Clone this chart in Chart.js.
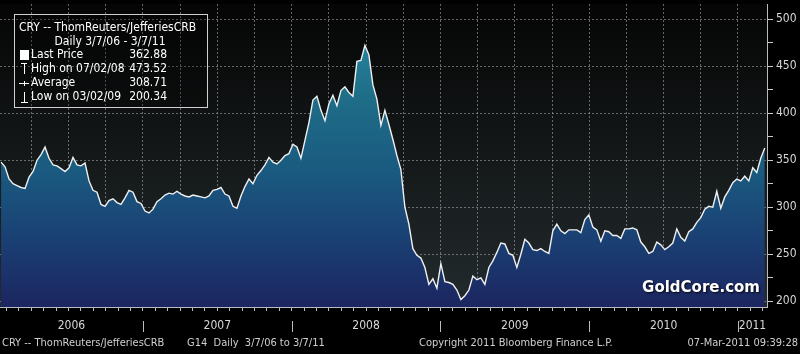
<!DOCTYPE html>
<html>
<head>
<meta charset="utf-8">
<script src="https://cdn.jsdelivr.net/npm/chart.js@4.4.1/dist/chart.umd.min.js"></script>
<style>
  html, body { margin: 0; padding: 0; background: #000; }
  #wrap { width: 800px; height: 354px; position: relative; }
</style>
</head>
<body>
<div id="wrap"><canvas id="cry"></canvas></div>
<script>
// CRY -- ThomReuters/JefferiesCRB, daily 3/7/06 - 3/7/11
const firstDate = 2006.046;   // fractional years
const lastDate = 2011.18;
const axisStart = 2006.039;
const axisEnd = 2011.195;

const cryValues = [
  348, 343, 330, 325, 323, 321, 320, 332, 338, 350, 356, 364, 352, 345, 344, 341,
  338, 342, 353, 345, 344, 347, 328, 318, 316, 303, 301, 307, 309, 305, 303, 310,
  318, 316, 306, 304, 296, 294, 298, 306, 309, 313, 315, 314, 317, 314, 312, 311,
  313, 312, 311, 310, 312, 318, 319, 321, 314, 312, 301, 299, 312, 322, 330, 325,
  334, 339, 345, 353, 348, 346, 350, 355, 357, 367, 364, 352, 371, 390, 414, 418,
  403, 392, 410, 419, 408, 424, 428, 422, 418, 455, 456, 472, 462, 430, 415, 387,
  403, 388, 372, 355, 340, 300, 282, 256, 249, 246, 236, 218, 224, 214, 240, 221,
  220, 218, 212, 202, 206, 212, 227, 223, 225, 218, 236, 243, 252, 262, 261, 251,
  249, 236, 250, 266, 262, 255, 254, 256, 253, 251, 275, 282, 275, 272, 276, 276,
  276, 273, 287, 292, 279, 276, 264, 275, 274, 270, 270, 267, 277, 277, 278, 276,
  263, 258, 251, 253, 263, 260, 255, 258, 262, 277, 268, 264, 274, 277, 284, 289,
  298, 301, 300, 317, 299, 311, 318, 326, 330, 328, 333, 328, 342, 337, 352, 362.88
];

const yearLabels = ['2006', '2007', '2008', '2009', '2010', '2011'];
const yTicks = [200, 250, 300, 350, 400, 450, 500];

const legendTitle = 'CRY -- ThomReuters/JefferiesCRB';
const legendRange = 'Daily 3/7/06 - 3/7/11';
const legendNames = ['Last Price', 'High on 07/02/08', 'Average', 'Low on 03/02/09'];
const legendValues = ['362.88', '473.52', '308.71', '200.34'];

const footerLeft = 'CRY -- ThomReuters/JefferiesCRB';
const footerMid = 'G14  Daily  3/7/06 to 3/7/11';
const footerCopy = 'Copyright 2011 Bloomberg Finance L.P.';
const footerStamp = '07-Mar-2011 09:39:28';
const watermark = 'GoldCore.com';

const FONT = '"DejaVu Sans Condensed", "Liberation Sans Narrow", sans-serif';
const GRID = 'rgba(165,165,165,0.6)';

const step = (lastDate - firstDate) / (cryValues.length - 1);
const points = cryValues.map((v, i) => ({ x: firstDate + i * step, y: v }));

// fundo escuro do painel
const backdrop = {
  id: 'backdrop',
  beforeDraw(chart) {
    const { ctx, chartArea: a } = chart;
    ctx.save();
    ctx.fillStyle = '#000';
    ctx.fillRect(0, 0, chart.width, chart.height);
    const g = ctx.createLinearGradient(0, a.top, 0, a.bottom);
    g.addColorStop(0, '#050505');
    g.addColorStop(0.5, '#141819');
    g.addColorStop(1, '#232b2e');
    ctx.fillStyle = g;
    ctx.fillRect(a.left, a.top, a.right - a.left, a.bottom - a.top);
    ctx.restore();
  }
};

// textos: anos, rodapé, legenda, marca d'água
const decorations = {
  id: 'decorations',
  afterDraw(chart) {
    const { ctx } = chart;
    const x = chart.scales.x;
    ctx.save();

    // year labels + separators
    ctx.font = '12px ' + FONT;
    ctx.fillStyle = '#d8d8d8';
    ctx.textAlign = 'center';
    ctx.textBaseline = 'middle';
    yearLabels.forEach(lbl => {
      const y0 = Math.max(+lbl, x.min), y1 = Math.min(+lbl + 1, x.max);
      ctx.fillText(lbl, (x.getPixelForValue(y0) + x.getPixelForValue(y1)) / 2, 326);
      if (+lbl > x.min) {
        const px = Math.round(x.getPixelForValue(+lbl)) + 0.5;
        ctx.strokeStyle = '#bbbbbb';
        ctx.lineWidth = 1;
        ctx.beginPath(); ctx.moveTo(px, 321); ctx.lineTo(px, 332); ctx.stroke();
      }
    });

    // footer
    ctx.font = '11px ' + FONT;
    ctx.fillStyle = '#cfcfcf';
    ctx.textAlign = 'left';
    ctx.fillText(footerLeft, 2, 343);
    ctx.fillText(footerMid, 187, 343);
    ctx.fillText(footerCopy, 419, 343);
    ctx.textAlign = 'right';
    ctx.fillText(footerStamp, 798, 343);

    // legend box
    ctx.fillStyle = 'rgba(0,0,0,0.25)';
    ctx.fillRect(14, 14, 193, 93);
    ctx.strokeStyle = '#d0d0d0';
    ctx.lineWidth = 1;
    ctx.strokeRect(14.5, 14.5, 193, 93);
    ctx.fillStyle = '#ffffff';
    ctx.font = '12px ' + FONT;
    ctx.textAlign = 'left';
    ctx.fillText(legendTitle, 19, 28);
    ctx.textAlign = 'center';
    ctx.fillText(legendRange, 110, 42);
    const rowY = [55, 69, 83, 97];
    legendNames.forEach((n, i) => {
      ctx.textAlign = 'left';
      ctx.fillText(n, 31, rowY[i]);
      ctx.textAlign = 'right';
      ctx.fillText(legendValues[i], 167, rowY[i]);
    });
    // icons
    ctx.fillRect(20, rowY[0] - 5, 9, 10);
    ctx.strokeStyle = '#ffffff';
    ctx.beginPath();
    ctx.moveTo(21, rowY[1] - 5.5); ctx.lineTo(27, rowY[1] - 5.5);
    ctx.moveTo(24.5, rowY[1] - 5); ctx.lineTo(24.5, rowY[1] + 5);
    ctx.moveTo(19, rowY[2] + 0.5); ctx.lineTo(29, rowY[2] + 0.5);
    ctx.moveTo(24.5, rowY[2] - 2); ctx.lineTo(24.5, rowY[2] + 3);
    ctx.moveTo(24.5, rowY[3] - 5); ctx.lineTo(24.5, rowY[3] + 5);
    ctx.moveTo(21, rowY[3] + 5.5); ctx.lineTo(28, rowY[3] + 5.5);
    ctx.stroke();

    // watermark
    ctx.font = 'bold 15px "DejaVu Sans", sans-serif';
    ctx.textAlign = 'right';
    ctx.shadowColor = 'rgba(0,0,0,0.9)';
    ctx.shadowBlur = 2;
    ctx.shadowOffsetX = 1;
    ctx.shadowOffsetY = 1;
    ctx.fillStyle = '#ffffff';
    ctx.fillText(watermark, 760, 288);
    ctx.restore();
  }
};

new Chart(document.getElementById('cry').getContext('2d'), {
  type: 'line',
  data: {
    datasets: [{
      label: 'CRY',
      data: points,
      borderColor: '#f0f0f0',
      borderWidth: 1.4,
      pointRadius: 0,
      tension: 0,
      fill: 'start',
      backgroundColor(c) {
        const a = c.chart.chartArea;
        if (!a) return '#1a4a78';
        const g = c.chart.ctx.createLinearGradient(0, a.top, 0, a.bottom);
        g.addColorStop(0, '#2a90a8');
        g.addColorStop(0.3, '#1f6e88');
        g.addColorStop(0.55, '#1a5a80');
        g.addColorStop(0.8, '#1a3d72');
        g.addColorStop(1, '#1c2560');
        return g;
      }
    }]
  },
  options: {
    responsive: true,
    maintainAspectRatio: false,
    devicePixelRatio: 1,
    animation: false,
    layout: { padding: { top: 4, left: 0, right: 0, bottom: 0 } },
    plugins: { legend: { display: false }, tooltip: { enabled: false } },
    scales: {
      x: {
        type: 'linear',
        min: axisStart,
        max: axisEnd,
        z: 1,
        afterBuildTicks(s) {
          const t = [];
          for (let m = Math.ceil(s.min * 12); m <= s.max * 12; m++) t.push({ value: m / 12 });
          s.ticks = t;
        },
        ticks: { display: false },
        grid: {
          color: c => (Math.round(c.tick.value * 12) % 3 === 0 ? GRID : 'rgba(0,0,0,0)'),
          tickColor: '#bbbbbb',
          tickLength: 4
        },
        border: { display: true, color: '#bbbbbb', dash: [2, 2] },
        afterFit(s) { s.height = 47; s.paddingLeft = 0; s.paddingRight = 0; }
      },
      y: {
        position: 'right',
        min: 194,
        max: 516,
        z: 1,
        afterBuildTicks(s) {
          const t = [];
          yTicks.forEach((v, i) => {
            t.push({ value: v });
            if (i < yTicks.length - 1) t.push({ value: (v + yTicks[i + 1]) / 2 });
          });
          s.ticks = t;
        },
        ticks: {
          color: '#d8d8d8',
          padding: 3,
          font: { family: FONT, size: 12 },
          callback: v => (yTicks.includes(v) ? v : '')
        },
        grid: {
          color: c => (yTicks.includes(c.tick.value) ? GRID : 'rgba(0,0,0,0)'),
          tickColor: '#cccccc',
          tickLength: 6
        },
        border: { display: true, color: '#bbbbbb', dash: [2, 2] },
        afterFit(s) { s.width = 33; s.paddingTop = 0; s.paddingBottom = 0; }
      }
    }
  },
  plugins: [backdrop, decorations]
});
</script>
</body>
</html>
